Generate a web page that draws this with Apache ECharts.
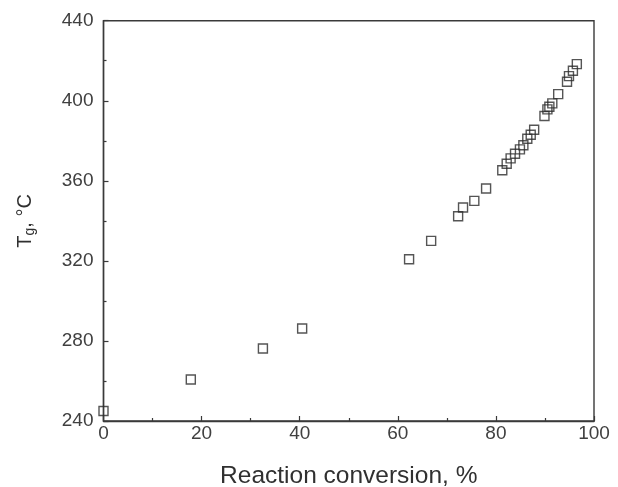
<!DOCTYPE html>
<html>
<head>
<meta charset="utf-8">
<script src="https://cdn.jsdelivr.net/npm/echarts@6/dist/echarts.min.js"></script>
<style>
html, body { margin: 0; padding: 0; background: #fff; }
#chart { width: 618px; height: 487px; }
</style>
</head>
<body>
<div id="chart"></div>
<script>
// reaction conversion (%) and Tg (°C)
var conversion = [0, 17.8, 32.5, 40.5, 62.3, 66.8, 72.3, 73.3, 75.6, 78.0,
    81.3, 82.2, 83.0, 83.9, 84.9, 85.6, 86.4, 87.1, 87.8,
    89.9, 90.5, 90.9, 91.5, 92.7, 94.5, 94.9, 95.7, 96.5];
var tg = [245, 260.7, 276.2, 286.2, 320.8, 330, 342.3, 346.7, 350, 356.2,
    365.3, 368.5, 371.2, 373.5, 375.7, 377.8, 381, 383, 385.5,
    392.4, 395.7, 397, 398.7, 403.3, 409.5, 412.3, 415, 418.3];
var xTicks = [0, 20, 40, 60, 80, 100];
var yTicks = [240, 280, 320, 360, 400, 440];

var points = conversion.map(function (x, i) {
    return [x, tg[i]];
});

var axisColor = '#3a3a3a';
var labelFont = {color: '#404040', fontSize: 19, fontFamily: 'Liberation Sans'};

var myChart = echarts.init(document.getElementById('chart'));
var option = {
    backgroundColor: '#fff',
    animation: false,
    grid: {
        left: 103.5, right: 24, top: 20.7, bottom: 66,
        show: true, borderColor: axisColor, borderWidth: 1.4,
        containLabel: false,
        outerBoundsMode: 'none'
    },
    xAxis: {
        type: 'value',
        min: xTicks[0], max: xTicks[xTicks.length - 1], interval: 20,
        name: 'Reaction conversion, %',
        nameLocation: 'middle', nameGap: 43,
        nameTextStyle: {color: '#303030', fontSize: 24.5, fontFamily: 'Liberation Sans'},
        axisLine: {lineStyle: {color: axisColor, width: 1.4}},
        axisTick: {inside: true, length: 5, lineStyle: {color: axisColor, width: 1.2}},
        minorTick: {show: true, splitNumber: 2, length: 3, lineStyle: {color: axisColor, width: 1.2}},
        axisLabel: Object.assign({margin: 3}, labelFont),
        splitLine: {show: false}
    },
    yAxis: {
        type: 'value',
        min: yTicks[0], max: yTicks[yTicks.length - 1], interval: 40,
        name: '{a|T}{b|g}{a|, °C}',
        nameLocation: 'middle', nameGap: 66, nameRotate: 90,
        nameTextStyle: {
            rich: {
                a: {color: '#303030', fontSize: 20, fontFamily: 'Liberation Sans'},
                b: {color: '#303030', fontSize: 14, fontFamily: 'Liberation Sans', padding: [10, 0, 0, 0]}
            }
        },
        axisLine: {lineStyle: {color: axisColor, width: 1.4}},
        axisTick: {inside: true, length: 5, lineStyle: {color: axisColor, width: 1.2}},
        minorTick: {show: true, splitNumber: 2, length: 3, lineStyle: {color: axisColor, width: 1.2}},
        axisLabel: Object.assign({margin: 10}, labelFont),
        splitLine: {show: false}
    },
    series: [{
        type: 'scatter',
        data: points,
        symbol: 'rect',
        symbolSize: 9,
        clip: true,
        itemStyle: {color: 'rgba(255,255,255,0)', borderColor: '#2a2a2a', borderWidth: 1.4}
    }]
};
myChart.setOption(option);
</script>
</body>
</html>
